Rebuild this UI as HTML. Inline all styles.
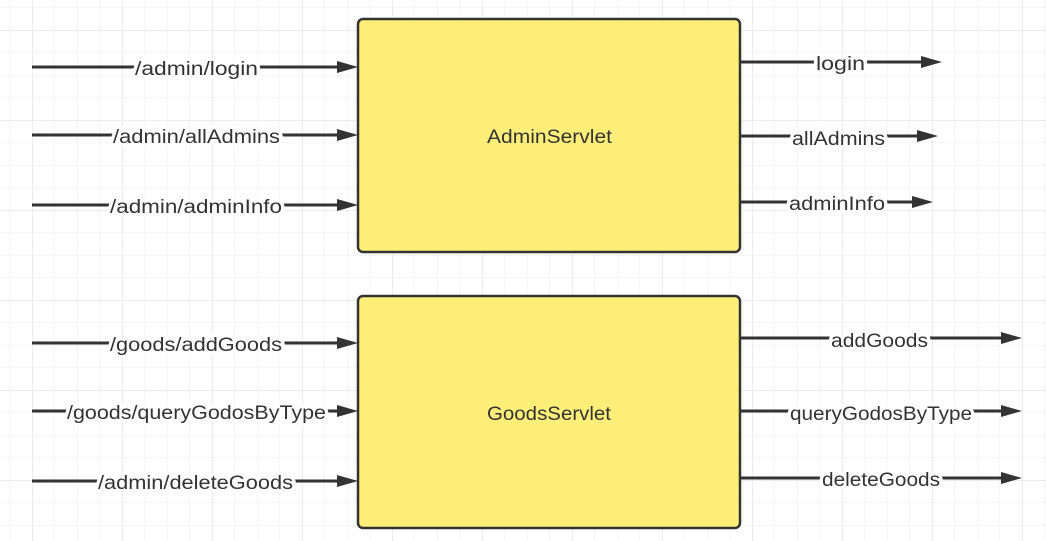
<!DOCTYPE html>
<html><head><meta charset="utf-8"><style>
html,body{margin:0;padding:0;background:#fff;}
svg{display:block;}
text{font-family:"Liberation Sans","Noto Sans CJK SC",sans-serif;font-size:19px;fill:#333;}
</style></head><body>
<svg width="1046" height="541" viewBox="0 0 1046 541" xmlns="http://www.w3.org/2000/svg">
<defs>
<pattern id="g" x="9.5" y="7.5" width="22.5" height="22.5" patternUnits="userSpaceOnUse">
<path d="M0 0H22.5M0 0V22.5" stroke="#ededed" stroke-width="1" fill="none"/>
</pattern>
<pattern id="G" x="32" y="30" width="90" height="90" patternUnits="userSpaceOnUse">
<path d="M0 0H90M0 0V90" stroke="#e6e6e6" stroke-width="1.5" fill="none"/>
</pattern>
</defs>
<rect width="1046" height="541" fill="#fff"/>
<rect width="1046" height="541" fill="url(#g)"/>
<rect width="1046" height="541" fill="url(#G)"/>
<g stroke="#333" stroke-width="3" fill="none">
<path d="M32 67H340"/><path d="M32 135H340"/><path d="M32 205H340"/>
<path d="M32 343H340"/><path d="M32 411H340"/><path d="M32 481H340"/>
<path d="M741 62H924"/><path d="M741 136H920"/><path d="M741 202H915"/>
<path d="M741 338H1004"/><path d="M741 411H1004"/><path d="M741 478H1004"/>
</g>
<g fill="#333">
<path d="M337 61L358 67L337 73z"/><path d="M337 129L358 135L337 141z"/><path d="M337 199L358 205L337 211z"/>
<path d="M337 337L358 343L337 349z"/><path d="M337 405L358 411L337 417z"/><path d="M337 475L358 481L337 487z"/>
<path d="M921 56L942 62L921 68z"/><path d="M917 130L938 136L917 142z"/><path d="M912 196L933 202L912 208z"/>
<path d="M1001 332L1022 338L1001 344z"/><path d="M1001 405L1022 411L1001 417z"/><path d="M1001 472L1022 478L1001 484z"/>
</g>
<rect x="358" y="19" width="382" height="233" rx="5" fill="#FFEF78" stroke="#333" stroke-width="2.5"/>
<rect x="358" y="296" width="382" height="232" rx="5" fill="#FFEF78" stroke="#333" stroke-width="2.5"/>
<text x="487" y="143" textLength="125" lengthAdjust="spacingAndGlyphs">AdminServlet</text>
<text x="487" y="420" textLength="124" lengthAdjust="spacingAndGlyphs">GoodsServlet</text>
<g style="paint-order:stroke" stroke="#fff" stroke-width="6" lengthAdjust="spacingAndGlyphs">
<text x="135" y="75" textLength="123" lengthAdjust="spacingAndGlyphs">/admin/login</text>
<text x="113" y="143" textLength="167" lengthAdjust="spacingAndGlyphs">/admin/allAdmins</text>
<text x="110" y="213" textLength="172" lengthAdjust="spacingAndGlyphs">/admin/adminInfo</text>
<text x="110" y="351" textLength="172" lengthAdjust="spacingAndGlyphs">/goods/addGoods</text>
<text x="67" y="419" textLength="259" lengthAdjust="spacingAndGlyphs">/goods/queryGodosByType</text>
<text x="98" y="489" textLength="195" lengthAdjust="spacingAndGlyphs">/admin/deleteGoods</text>
<text x="816" y="70" textLength="49" lengthAdjust="spacingAndGlyphs">login</text>
<text x="792" y="145" textLength="93" lengthAdjust="spacingAndGlyphs">allAdmins</text>
<text x="789" y="210" textLength="96" lengthAdjust="spacingAndGlyphs">adminInfo</text>
<text x="831" y="347" textLength="97" lengthAdjust="spacingAndGlyphs">addGoods</text>
<text x="790" y="420" textLength="182" lengthAdjust="spacingAndGlyphs">queryGodosByType</text>
<text x="822" y="486" textLength="118" lengthAdjust="spacingAndGlyphs">deleteGoods</text>
</g>
</svg>
</body></html>
